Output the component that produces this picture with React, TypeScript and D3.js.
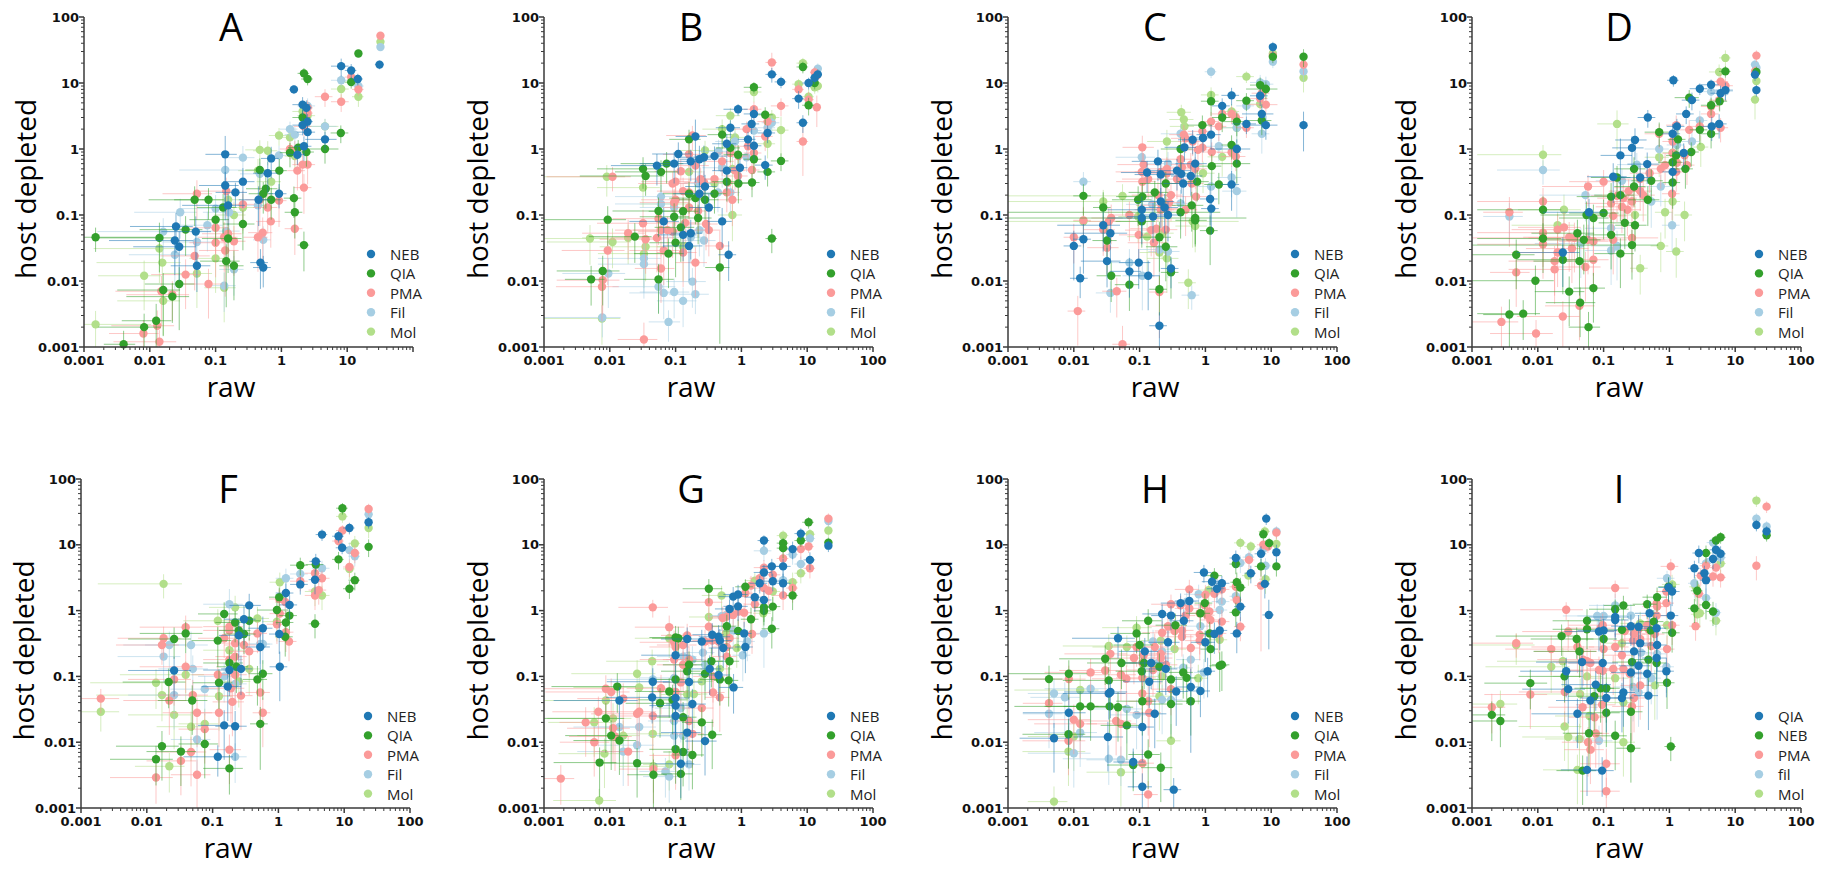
import React from "react";
import * as d3 from "d3";

type Pt = [number, number, number, number]; // x, y, relative SD of x, relative SD of y

const COLORS = ["#1f78b4", "#33a02c", "#fb9a99", "#a6cee3", "#b2df8a"];
const NAMES_STD = ["NEB", "QIA", "PMA", "Fil", "Mol"];
const NAMES_I = ["QIA", "NEB", "PMA", "fil", "Mol"];
const X_TICKS = [0.001, 0.01, 0.1, 1, 10, 100];
const X_TICKS_A = [0.001, 0.01, 0.1, 1, 10];
const Y_TICKS = [0.001, 0.01, 0.1, 1, 10, 100];
const LETTERS = ["A", "B", "C", "D", "F", "G", "H", "I"];

// ---------------- Panel A ----------------
const A_NEB: Pt[] = [[31,19,.15,.15],[8.1,18,.3,.3],[11.5,15.5,.2,.25],[14.5,11.5,.2,.2],[1.55,8,.15,.15],[2.1,4.7,.3,.3],[2.4,4.2,.2,.3],[2.5,2.6,.2,.3],[2.1,2.3,.3,.3],[2.5,1.8,.3,.4],[2.2,1.1,.3,.4],[1.75,0.82,.3,.3],[4.6,1.4,.5,.3],[0.7,0.72,.3,.5],[0.62,0.43,.4,.5],[0.92,0.21,.3,.4],[0.45,0.17,.5,.6],[0.14,0.83,.5,.9],[0.14,0.28,.6,.6],[0.155,0.14,.8,.5],[0.2,0.22,.5,.4],[0.26,0.32,.5,.6],[0.025,0.067,.8,.6],[0.024,0.041,.9,.7],[0.028,0.033,.8,.7],[0.05,0.056,.7,.7],[0.052,0.017,.6,.6],[0.48,0.019,.3,.6],[0.53,0.016,.3,.5]];
const A_QIA: Pt[] = [[14.8,28,.1,.1],[2.2,14,.2,.2],[2.5,11.5,.2,.2],[11.5,10.3,.2,.2],[2.1,3,.3,.3],[8,1.75,.3,.3],[4.6,1,.6,.4],[2.4,0.9,.3,.4],[1.35,0.88,.3,.4],[1.8,1.05,.3,.3],[0.93,0.47,.3,.5],[0.47,0.48,.4,.5],[0.58,0.25,.5,.5],[0.53,0.21,.4,.5],[0.7,0.17,.4,.5],[1.55,0.18,.3,.5],[1.6,0.11,.3,.6],[2.2,0.035,.2,.6],[0.26,0.073,.5,.6],[0.1,0.085,.6,.6],[0.13,0.13,.6,.6],[0.078,0.17,.7,.5],[0.048,0.17,.8,.6],[0.035,0.06,.8,.6],[0.014,0.045,.9,.7],[0.0015,0.046,7,.4],[0.155,0.044,.6,.7],[0.145,0.02,.6,.8],[0.19,0.017,.4,.7],[0.028,0.009,.7,.8],[0.016,0.0073,.8,.8],[0.022,0.0058,.8,.6],[0.0125,0.0025,.7,.8],[0.0082,0.002,.8,.6],[0.004,0.0011,.5,.6]];
const A_PMA: Pt[] = [[32,52,.1,.1],[11.5,12.3,.2,.2],[14.8,8,.2,.2],[4.6,6.2,.3,.3],[8.1,5.2,.3,.3],[2.5,4.2,.2,.3],[2.5,3.5,.2,.3],[2.2,2.2,.3,.3],[1.35,1,.3,.3],[1.6,0.94,.3,.4],[2.1,0.58,.3,.5],[2.5,0.58,.3,.5],[1.75,0.47,.3,.5],[2.2,0.26,.3,.6],[0.92,0.165,.3,.6],[0.47,0.17,.4,.6],[0.62,0.13,.4,.6],[0.69,0.08,.4,.6],[1.6,0.062,.3,.6],[0.52,0.054,.4,.7],[0.44,0.046,.4,.7],[0.145,0.23,.6,.6],[0.052,0.21,.7,.6],[0.26,0.145,.5,.6],[0.1,0.064,.6,.6],[0.135,0.046,.6,.7],[0.155,0.052,.6,.7],[0.19,0.04,.5,.7],[0.1,0.038,.6,.7],[0.14,0.029,.6,.8],[0.048,0.024,.7,.7],[0.035,0.0125,.7,.7],[0.078,0.009,.6,.7],[0.015,0.007,.8,.7],[0.022,0.0062,.8,.6],[0.013,0.0021,.8,.7],[0.008,0.0016,.7,.6],[0.014,0.0012,.8,.5]];
const A_FIL: Pt[] = [[32,35,.1,.1],[8.1,11,.3,.2],[14.8,9,.2,.2],[2.5,4.5,.3,.3],[4.6,2.2,.5,.3],[1.35,2,.3,.3],[1.6,1.65,.3,.3],[0.92,0.8,.3,.4],[0.26,0.74,.5,.5],[0.14,0.48,.8,.5],[0.47,0.42,.5,.5],[0.44,0.14,.5,.6],[0.1,0.125,.7,.6],[0.16,0.11,.6,.6],[0.029,0.11,.8,.6],[0.016,0.056,.9,.6],[0.075,0.07,.7,.6],[0.052,0.039,.7,.7],[0.024,0.025,.8,.7],[0.19,0.015,.4,.6],[0.135,0.0085,.5,.6],[0.53,0.042,.3,.6],[0.145,0.057,.6,.6]];
const A_MOL: Pt[] = [[32,42,.1,.1],[8.1,8.1,.3,.3],[14.8,6.2,.2,.3],[2.5,3.2,.3,.3],[2.1,3.7,.3,.3],[4.6,2.2,.6,.3],[0.92,1.6,.3,.3],[1.35,1.5,.3,.3],[0.47,0.97,.4,.4],[0.62,0.94,.4,.4],[1.6,0.78,.3,.4],[0.44,0.47,.5,.5],[0.7,0.32,.4,.5],[0.19,0.1,.5,.6],[0.26,0.13,.5,.6],[0.155,0.17,.6,.6],[0.1,0.022,.6,.7],[0.014,0.031,.9,.7],[0.0155,0.019,.9,.7],[0.052,0.013,.7,.7],[0.0082,0.012,.8,.7],[0.016,0.005,.8,.7],[0.135,0.0079,.5,.7],[0.0015,0.0022,6,.6]];

// ---------------- Panel B ----------------
const B_NEB: Pt[] = [[2.9,13.5,.2,.25],[4,10.4,.2,.2],[10.5,10,.2,.2],[13,12,.15,.2],[14.5,13.5,.15,.2],[7.4,5.8,.2,.3],[8.6,2.5,.2,.3],[0.89,4,.4,.2],[1.55,3.4,.3,.3],[1.43,2.4,.3,.3],[2.5,1.75,.3,.3],[0.68,2.1,.4,.3],[1.26,1.4,.3,.3],[1.55,1.12,.3,.4],[0.6,1.2,.4,.4],[0.95,0.52,.3,.4],[0.6,0.47,.4,.5],[2.3,0.57,.3,.4],[0.39,0.78,.5,.4],[0.27,0.75,.6,.5],[0.23,0.7,.5,.6],[0.17,0.65,.6,.5],[0.11,0.84,.6,.5],[0.095,0.6,.7,.5],[0.052,0.56,.8,.5],[0.2,1.55,.5,.8],[0.28,0.27,.5,.5],[0.23,0.21,.6,.5],[0.32,0.13,.5,.6],[0.066,0.08,.7,.6],[0.51,0.08,.4,.6],[0.13,0.05,.6,.6],[0.17,0.053,.5,.6],[0.16,0.034,.6,.7],[0.64,0.025,.3,.6]];
const B_QIA: Pt[] = [[8.6,17.5,.2,.2],[13,10,.15,.2],[10.5,4.6,.2,.3],[1.55,8.6,.3,.2],[2.3,3.3,.3,.3],[0.51,1.65,.4,.4],[0.68,1.04,.4,.4],[0.89,0.82,.4,.4],[1.55,0.7,.3,.4],[4,0.66,.3,.3],[2.5,0.45,.3,.4],[1.45,0.31,.3,.4],[0.9,0.3,.4,.5],[0.6,0.32,.4,.5],[0.39,0.21,.5,.5],[0.28,0.17,.6,.5],[0.2,0.18,.6,.6],[0.16,0.21,.6,.5],[0.16,1.4,.5,.4],[0.073,0.6,.8,.5],[0.06,0.45,.8,.5],[0.032,0.5,.8,.5],[0.035,0.39,.9,.5],[0.055,0.115,.8,.6],[0.095,0.094,.7,.6],[0.13,0.114,.7,.6],[0.22,0.09,.6,.6],[0.12,0.065,.6,.7],[0.1,0.038,.6,.7],[0.078,0.026,.7,.7],[0.024,0.047,.8,.6],[0.0093,0.085,.9,.6],[0.0078,0.0142,.8,.7],[0.0052,0.0106,.6,.6],[0.055,0.0106,.7,.7],[0.47,0.016,.4,.93],[2.9,0.044,.2,.4]];
const B_PMA: Pt[] = [[2.9,20.5,.2,.4],[13,14.5,.15,.2],[14,13,.15,.2],[7.4,8,.2,.3],[10.5,5.6,.2,.3],[14,4.3,.15,.5],[4,4.5,.3,.3],[1.55,4,.3,.3],[2.5,2.6,.3,.4],[1.2,2,.4,.3],[2.3,1.55,.3,.4],[8.6,1.3,.2,.7],[1.26,1.1,.4,.4],[1.55,0.87,.3,.4],[0.68,0.87,.4,.4],[0.9,0.78,.4,.4],[0.51,0.65,.5,.4],[1.45,0.48,.3,.5],[0.8,0.47,.4,.5],[0.89,0.39,.4,.5],[0.62,0.31,.4,.5],[0.39,0.35,.5,.5],[0.24,0.35,.6,.5],[0.27,0.31,.5,.5],[0.6,0.22,.4,.5],[0.73,0.17,.4,.6],[0.16,0.83,.6,.5],[0.18,1.6,.6,.4],[0.2,0.56,.6,.5],[0.12,0.46,.6,.5],[0.1,0.32,.7,.5],[0.09,0.3,.7,.5],[0.13,0.23,.6,.6],[0.16,0.22,.6,.6],[0.1,0.17,.7,.6],[0.095,0.155,.7,.6],[0.16,0.13,.6,.6],[0.22,0.115,.6,.6],[0.055,0.088,.8,.6],[0.032,0.075,.8,.6],[0.14,0.076,.6,.6],[0.29,0.073,.5,.6],[0.32,0.059,.5,.6],[0.06,0.059,.8,.6],[0.075,0.059,.7,.6],[0.09,0.056,.7,.6],[0.019,0.053,.8,.6],[0.052,0.045,.8,.7],[0.035,0.043,.8,.7],[0.011,0.38,.9,.4],[0.0093,0.029,.8,.7],[0.066,0.029,.7,.7],[0.13,0.027,.6,.7],[0.47,0.034,.4,.7],[0.2,0.019,.5,.7],[0.06,0.0155,.6,.7],[0.0078,0.0103,.8,.7],[0.0076,0.0082,.8,.7],[0.033,0.0013,.6,.8]];
const B_FIL: Pt[] = [[14.5,16.5,.15,.2],[2.9,2.5,.3,.3],[2.5,2.1,.3,.3],[1.55,1.9,.3,.4],[0.8,1.3,.5,.4],[0.45,0.92,.5,.5],[1.2,0.75,.4,.4],[0.51,0.52,.5,.5],[0.22,0.3,.6,.5],[0.06,0.19,.8,.5],[0.06,0.147,.8,.6],[0.68,0.22,.4,.5],[0.44,0.22,.5,.5],[0.095,0.13,.7,.6],[0.23,0.059,.6,.6],[0.27,0.041,.5,.6],[0.033,0.022,.8,.7],[0.033,0.018,.8,.7],[0.0095,0.013,.8,.7],[0.055,0.0082,.8,.6],[0.066,0.0066,.7,.6],[0.095,0.0068,.7,.6],[0.18,0.0098,.6,.6],[0.2,0.0063,.6,.5],[0.13,0.005,.6,.6],[0.0077,0.0028,.9,.5],[0.078,0.0024,.5,.5],[0.17,0.046,.6,.6]];
const B_MOL: Pt[] = [[8.6,20,.2,.2],[13,8.6,.15,.2],[14.5,9,.15,.2],[7.4,9.6,.2,.2],[10.5,6.2,.2,.3],[1.55,7.3,.3,.3],[0.68,3.2,.4,.3],[2.9,3,.3,.3],[0.51,2,.5,.4],[4,1.93,.3,.6],[2.5,1.2,.3,.4],[0.8,1.5,.4,.4],[0.28,0.95,.6,.4],[0.73,0.5,.4,.5],[0.39,0.3,.5,.5],[0.16,0.45,.6,.5],[0.009,0.38,.9,.5],[0.032,0.26,.8,.5],[0.73,0.1,.4,.6],[0.095,0.147,.7,.6],[0.005,0.044,.9,.6],[0.011,0.039,.9,.6],[0.019,0.045,.8,.6],[0.035,0.033,.8,.7],[0.033,0.026,.8,.7],[0.13,0.033,.6,.7],[0.0076,0.0027,.9,.6]];

// ---------------- Panel C ----------------
const C_NEB: Pt[] = [[10.6,35,.1,.2],[2.5,6.5,.3,.3],[6.8,6.4,.3,.3],[1.8,4.5,.3,.3],[7.2,3.4,.5,.4],[4.2,2.4,.4,.3],[8.3,2.3,.5,.4],[31,2.3,.1,.6],[1.22,1.65,.4,.4],[0.64,1.38,.4,.4],[0.92,1.47,.4,.4],[0.48,1.06,.5,.4],[3,1,.6,.4],[0.7,0.6,.5,.5],[0.6,0.39,.5,.5],[0.46,0.3,.5,.5],[0.43,0.42,.5,.5],[0.37,0.47,.6,.5],[0.19,0.65,.6,.5],[0.21,0.41,.6,.5],[0.13,0.44,.6,.5],[2.5,0.29,.3,.6],[0.108,0.12,.7,.6],[0.108,0.09,.7,.6],[0.21,0.16,.6,.6],[0.24,0.13,.6,.6],[0.27,0.1,.6,.6],[0.16,0.095,.6,.6],[1.23,0.125,.3,.6],[1.18,0.175,.3,.6],[0.028,0.07,.8,.6],[0.036,0.053,.8,.6],[0.01,0.034,.3,.7],[0.014,0.043,.3,.7],[0.032,0.02,.6,.6],[0.097,0.019,.5,.6],[0.07,0.014,.5,.6],[0.135,0.012,.5,.7],[0.3,0.0155,.3,.5],[0.0125,0.011,.3,.5],[0.2,0.0021,.3,.6]];
const C_QIA: Pt[] = [[31,25,.1,.3],[10.6,25,.1,.2],[6.8,9.3,.3,.3],[8.3,8.1,.5,.3],[4.2,5.4,.3,.3],[1.22,5.3,.3,.4],[7.2,2.7,.4,.4],[3,2.6,.4,.4],[0.9,2.3,.4,.4],[1.8,3,.3,.4],[0.42,1,.5,.5],[2.5,1.15,.3,.4],[3,0.6,.6,.5],[1.25,0.55,.4,.5],[0.75,0.32,.5,.5],[1.6,0.29,.4,.5],[0.25,0.3,.6,.5],[0.11,0.19,.6,.6],[0.095,0.17,.6,.6],[0.17,0.22,.6,.5],[0.42,0.11,3,.6],[0.62,0.14,.5,.6],[0.7,0.09,5,.6],[0.7,0.083,.5,.6],[1.18,0.058,.3,.7],[0.108,0.08,.6,.6],[0.2,0.046,.5,.7],[0.25,0.033,.5,.7],[0.3,0.0135,.3,.6],[0.028,0.13,.3,.7],[0.032,0.041,.4,.7],[0.014,0.195,.3,.5],[0.037,0.012,.4,.6],[0.07,0.0088,.4,.6],[0.2,0.0075,.3,.6]];
const C_PMA: Pt[] = [[10.6,26,.1,.2],[31,19,.1,.3],[7.2,7,.3,.3],[6.8,5.8,.3,.3],[8.3,4.7,.5,.3],[1.8,3.4,.3,.3],[2.5,3.4,.3,.3],[2.9,3,.3,.3],[1.22,2.6,.3,.4],[1.6,2.2,.3,.4],[4.2,2.1,.3,.3],[0.9,1.85,.4,.4],[0.47,1.65,.4,.4],[0.5,1.45,.4,.4],[0.64,1.3,.4,.4],[0.9,1.05,.4,.4],[0.77,0.97,.4,.4],[1.25,0.9,.4,.4],[2.5,0.89,.4,.4],[2.9,0.77,.4,.4],[0.42,0.7,.5,.5],[0.6,0.58,.5,.5],[0.7,0.5,.5,.5],[0.44,0.53,.5,.5],[0.11,1.06,.5,.5],[0.115,0.58,.6,.5],[0.108,0.45,.6,.5],[0.21,0.45,.6,.5],[0.26,0.5,.6,.5],[0.135,0.35,.6,.5],[0.11,0.32,.6,.5],[0.37,0.35,.5,.5],[0.26,0.43,.6,.5],[0.19,0.2,.6,.6],[0.22,0.14,.6,.6],[0.21,0.12,.6,.6],[0.25,0.125,.6,.6],[0.3,0.2,.5,.6],[0.28,0.155,.5,.6],[0.5,0.12,.5,.6],[0.72,0.19,.5,.6],[0.62,0.3,.5,.5],[0.15,0.059,.6,.6],[0.18,0.062,.6,.6],[0.25,0.06,.5,.6],[0.165,0.038,.6,.7],[0.07,0.1,.5,.6],[0.097,0.05,.5,.7],[0.037,0.09,.5,.6],[0.034,0.08,.5,.6],[0.028,0.06,.5,.6],[0.032,0.032,.5,.6],[0.01,0.046,.3,.6],[0.014,0.083,.3,.6],[0.045,0.007,.4,.6],[0.2,0.0068,.3,.8],[0.0115,0.0035,.3,.7],[0.055,0.0011,.3,.9]];
const C_FIL: Pt[] = [[10.6,21,.1,.2],[31,15,.1,.3],[1.22,14.8,.2,.2],[6.8,10.2,.3,.3],[8.3,9.6,.3,.3],[4.2,4.5,.3,.3],[7.2,1.7,.3,.5],[3,2.1,.4,.4],[1.6,1.1,.4,.4],[0.42,1.7,.5,.4],[0.108,0.75,.6,.5],[0.27,0.6,.5,.5],[2.5,0.37,.4,.5],[3,0.23,.4,.6],[1.22,0.27,.4,.6],[0.42,0.15,.5,.6],[0.155,0.145,.6,.6],[0.014,0.32,.3,.4],[0.07,0.019,.5,.6],[0.11,0.012,.5,.7],[0.036,0.0066,.4,.5],[0.62,0.0061,.3,.4],[0.2,0.03,.5,.6],[0.27,0.028,.5,.6]];
const C_MOL: Pt[] = [[10.6,28,.1,.2],[31,12,.1,.4],[4.2,12.5,.3,.2],[1.22,6.6,.3,.3],[6.8,4.8,.3,.3],[2.5,3.7,.3,.3],[0.43,3.6,.4,.3],[0.47,2.8,.4,.4],[0.48,2.2,.4,.4],[3,2.1,.4,.4],[0.26,1.3,.5,.5],[1.8,0.76,.4,.5],[0.92,0.43,.5,.5],[0.055,0.195,3,.5],[0.028,0.16,4,.5],[0.095,0.095,.5,.6],[0.64,0.08,4,.6],[0.7,0.068,.5,.6],[0.22,0.053,.5,.6],[0.13,0.047,.5,.7],[0.2,0.027,.5,.7],[0.26,0.022,.5,.7],[0.55,0.0094,.3,.6],[0.014,0.08,.3,.6]];

// ---------------- Panel D ----------------
const D_NEB: Pt[] = [[1.15,11,.2,.2],[2.9,8.2,.3,.2],[4.3,9.4,.3,.2],[6,7,.3,.3],[7.1,7.8,.3,.3],[20,13.4,.1,.2],[21,7.8,.1,.2],[2.2,5.5,.3,.3],[1.8,3.4,.3,.3],[0.47,3,.3,.3],[5.7,2.4,.3,.4],[4.4,2.2,.3,.4],[1.3,2.2,.3,.3],[1.12,1.7,.3,.4],[0.3,1.37,.5,.5],[0.27,1.04,.5,.5],[0.18,0.8,.5,.8],[0.46,0.59,.5,.5],[1.65,0.87,.3,.4],[1.12,0.45,.3,.5],[0.14,0.38,.6,.6],[0.36,0.37,.5,.5],[0.06,0.11,.8,.6],[0.024,0.027,.8,.7]];
const D_QIA: Pt[] = [[7.1,15,.2,.2],[21,14.7,.1,.2],[2,6,.4,.3],[5.8,5.3,.3,.3],[4.3,4.6,.3,.3],[0.7,1.8,.4,.4],[1.35,1.4,.3,.4],[4.3,1.7,.3,.4],[2.9,1.95,.3,.4],[2.15,0.9,.3,.4],[1.27,0.8,.3,.4],[1.12,0.63,.4,.5],[1.75,0.5,.3,.5],[1.12,0.31,.3,.6],[0.29,0.5,.5,.5],[0.16,0.37,.6,.5],[0.29,0.27,.5,.5],[0.53,0.33,.5,.5],[0.47,0.17,.5,.6],[0.13,0.19,.7,.6],[0.18,0.2,.6,.6],[0.055,0.1,.8,.6],[0.07,0.09,.7,.6],[0.1,0.107,.7,.6],[0.21,0.076,.6,.6],[0.3,0.07,.5,.6],[0.012,0.12,.9,.6],[0.13,0.05,.6,.7],[0.27,0.035,1.5,.7],[0.18,0.026,.6,.7],[0.04,0.053,.8,.6],[0.05,0.042,.8,.7],[0.012,0.044,.9,.7],[0.0047,0.025,.9,.7],[0.024,0.021,.8,.7],[0.043,0.02,.8,.7],[0.0092,0.0101,.9,.7],[0.07,0.0078,.5,.7],[0.03,0.0069,.7,.7],[0.044,0.0047,.7,.7],[0.0037,0.0031,.6,.7],[0.006,0.0032,.8,.6],[0.059,0.002,.5,.7]];
const D_PMA: Pt[] = [[21,26,.1,.2],[20,15,.1,.2],[6,10.5,.3,.3],[7.1,9.1,.3,.3],[5.7,5.5,.3,.3],[4.3,4.4,.3,.3],[4.3,3.4,.3,.4],[6,2.1,.3,.4],[2.9,2.2,.3,.4],[1.27,2.3,.3,.4],[2,1.95,.3,.4],[0.7,1.7,.4,.4],[1.12,1.3,.3,.4],[1.7,0.8,.3,.4],[1.12,0.86,.3,.4],[1.85,0.57,.3,.5],[1.3,0.62,.3,.5],[0.86,0.57,.4,.5],[0.74,0.5,.4,.5],[1.27,0.45,.3,.5],[1.1,0.21,.3,.6],[0.5,0.43,.5,.5],[0.36,0.35,.5,.5],[0.1,0.32,.7,.5],[0.058,0.27,.8,.5],[0.29,0.26,.5,.5],[0.36,0.23,.5,.5],[0.4,0.2,.5,.6],[0.24,0.23,.5,.5],[0.2,0.18,.6,.6],[0.27,0.16,.5,.6],[0.16,0.195,.6,.6],[0.19,0.133,.6,.6],[0.23,0.12,.6,.6],[0.13,0.15,.6,.6],[0.14,0.097,.6,.6],[0.012,0.16,.9,.6],[0.0037,0.11,.6,.7],[0.012,0.054,.9,.7],[0.012,0.036,.9,.7],[0.02,0.06,.8,.7],[0.025,0.065,.8,.7],[0.03,0.046,.8,.7],[0.036,0.045,.8,.7],[0.058,0.042,.8,.7],[0.07,0.04,.7,.7],[0.033,0.031,.8,.7],[0.02,0.027,.8,.7],[0.018,0.02,.8,.7],[0.018,0.015,.8,.7],[0.0047,0.0135,.6,.7],[0.053,0.0163,.7,.7],[0.07,0.021,.7,.7],[0.14,0.042,.6,.7],[0.27,0.045,1.5,.7],[0.043,0.0042,.7,.7],[0.024,0.0029,.8,.7],[0.0028,0.0024,.8,.7],[0.0094,0.0016,.8,.6]];
const D_FIL: Pt[] = [[20,19,.1,.2],[21,17,.1,.2],[4.3,7.4,.3,.3],[7.1,7.5,.3,.3],[2.9,2.7,.3,.4],[2.2,1.3,.3,.4],[0.7,1,.4,.4],[1.3,1.15,.3,.4],[0.32,0.58,.5,.5],[0.19,0.33,.6,.5],[0.74,0.27,.4,.5],[0.53,0.16,.5,.6],[0.053,0.2,.8,.6],[0.13,0.063,.6,.6],[0.16,0.034,.6,.7],[0.13,0.029,.6,.7],[1.1,0.07,.3,.6],[0.045,0.037,.8,.7],[0.012,0.48,.8,.4],[0.0037,0.095,.6,.6]];
const D_MOL: Pt[] = [[7.1,24,.2,.3],[5.7,14.7,.3,.3],[21,10.7,.1,.3],[20,5.6,.1,.5],[0.16,2.4,.5,.6],[0.012,0.82,.9,.4],[0.7,0.75,.4,.5],[3,1.07,.3,.5],[1.12,0.88,.3,.5],[1.12,0.16,.3,.6],[0.86,0.11,.3,.6],[1.7,0.1,.3,.6],[0.74,0.034,.3,.6],[1.27,0.028,.3,.6],[0.36,0.0156,.3,.6],[0.025,0.12,.8,.7],[0.02,0.07,.8,.6],[0.3,0.1,.5,.6]];

// ---------------- Panel F ----------------
const F_NEB: Pt[] = [[9.3,9,.2,.2],[8.2,13.5,.2,.2],[12,18,.2,.2],[23.5,22,.1,.2],[4.6,14.3,.2,.2],[3.7,5.6,.2,.3],[3.6,2.95,.2,.4],[2.15,2.5,.3,.3],[1.3,1.85,.3,.4],[1.48,1.22,.3,.4],[1.03,0.44,.3,.5],[1.05,0.14,.3,.7],[0.58,0.54,.4,.5],[0.53,0.28,.4,.6],[0.36,1.2,.5,.5],[0.3,0.74,.5,.6],[0.25,0.42,.5,.6],[0.27,0.13,.5,.6],[0.18,0.125,.6,.6],[0.17,0.07,.6,.7],[0.026,0.123,.8,.6],[0.15,0.018,.6,.7],[0.22,0.0175,.5,.7],[0.12,0.006,.7,.5]];
const F_QIA: Pt[] = [[9.4,36,.2,.2],[23.5,9.3,.1,.3],[8.2,6,.2,.3],[14.5,2.9,.2,.3],[12,2.15,.2,.3],[2.15,4.9,.3,.3],[3.7,5,.3,.3],[3.6,0.63,.2,.4],[1.03,1.6,.3,.4],[0.95,1.02,.5,.4],[1.47,0.84,.3,.4],[1.3,0.66,.3,.5],[1.27,0.4,.3,.5],[0.15,0.89,.6,.5],[0.22,0.66,.5,.5],[0.3,0.44,.5,.5],[0.36,0.7,.5,.5],[0.25,0.5,.5,.5],[0.12,0.35,.6,.6],[0.039,0.45,.8,.5],[0.026,0.37,.8,.5],[0.18,0.16,.6,.6],[0.23,0.14,.5,.6],[0.48,0.09,.4,.6],[0.58,0.11,.4,.6],[0.125,0.08,.6,.6],[0.0215,0.082,.8,.6],[0.049,0.043,.7,.7],[0.53,0.019,.3,.8],[0.017,0.0087,.8,.7],[0.0138,0.0055,.8,.6],[0.033,0.0072,.7,.7],[0.076,0.0094,.6,.7],[0.18,0.004,.6,.6]];
const F_PMA: Pt[] = [[23.5,35,.1,.2],[9.4,16.5,.2,.2],[8.2,11.4,.2,.2],[14.5,7.5,.2,.3],[12,4.6,.2,.3],[2.15,2.8,.3,.3],[3.6,3.7,.3,.3],[4.6,3.1,.3,.3],[4.1,2.05,.3,.4],[3.6,1.7,.3,.4],[1.03,1.5,.3,.4],[1.27,1.35,.3,.4],[1.05,0.9,.3,.4],[0.95,0.62,.3,.5],[1.3,0.47,.3,.5],[1.45,0.34,.3,.5],[0.48,0.45,.4,.5],[0.36,0.24,.5,.6],[0.3,0.3,.5,.6],[0.22,0.32,.5,.6],[0.18,0.57,.6,.5],[0.18,0.5,.6,.5],[0.15,0.38,.6,.5],[0.22,0.2,.5,.6],[0.18,0.18,.6,.6],[0.22,0.106,.5,.6],[0.12,0.106,.6,.6],[0.19,0.066,.6,.7],[0.27,0.051,.5,.7],[0.2,0.041,.5,.7],[0.53,0.057,.4,.7],[0.58,0.028,.3,.7],[0.039,0.56,.8,.5],[0.018,0.38,.8,.5],[0.017,0.3,.8,.5],[0.039,0.14,.8,.6],[0.026,0.09,.8,.6],[0.022,0.043,.8,.7],[0.05,0.052,.7,.7],[0.058,0.028,.7,.7],[0.125,0.028,.6,.7],[0.076,0.0158,.6,.7],[0.047,0.0071,.7,.7],[0.18,0.0077,.5,.7],[0.033,0.0052,.7,.7],[0.058,0.0032,.6,.7],[0.0138,0.0029,.8,.6],[0.002,0.046,.9,.4]];
const F_FIL: Pt[] = [[23.5,29,.1,.2],[14.5,6.7,.2,.3],[12,8.3,.2,.3],[4.6,4.4,.3,.3],[2.15,3.6,.3,.3],[1.3,3.1,.3,.4],[0.18,1.25,.6,.7],[0.53,0.31,.4,.5],[0.58,0.31,.4,.5],[0.047,0.3,.8,.6],[0.022,0.3,.8,.6],[0.018,0.2,.8,.6],[0.05,0.13,.7,.6],[0.026,0.052,.8,.7],[0.076,0.064,.7,.6],[0.22,0.077,.5,.6],[0.058,0.011,.6,.7],[0.22,0.006,.5,.6],[0.15,0.1,.6,.6]];
const F_MOL: Pt[] = [[9.4,27,.2,.2],[23.5,18,.1,.3],[14.5,10.5,.2,.3],[12,4.3,.2,.3],[4.6,1.7,.3,.4],[3.6,1.95,.3,.4],[1.05,2.7,.3,.4],[0.95,0.68,.4,.5],[0.48,0.76,.5,.5],[0.22,1.12,.6,.5],[0.12,0.7,.7,.5],[0.18,0.25,.6,.6],[0.36,0.13,.5,.6],[0.25,0.084,.5,.6],[0.125,0.05,.6,.7],[0.039,0.106,.9,.6],[0.0138,0.08,.9,.6],[0.017,0.052,.9,.6],[0.026,0.026,.8,.7],[0.047,0.0172,.7,.7],[0.076,0.019,.6,.7],[0.022,0.0043,.7,.6],[0.002,0.029,.9,.5],[0.018,2.55,.9,.4]];

// ---------------- Panel G ----------------
const G_NEB: Pt[] = [[2.2,11.6,.2,.2],[8,14.8,.2,.2],[21,9.7,.1,.2],[11,5.9,.2,.3],[6,8.6,.2,.3],[2.9,4.7,.3,.3],[2.2,3.8,.3,.3],[3,2.8,.3,.3],[4.3,4.7,.3,.3],[4.3,2.6,.3,.4],[1.9,2.6,.3,.3],[1.6,1.6,.3,.4],[2.2,1.45,.3,.4],[0.89,1.76,.4,.4],[0.75,1.63,.4,.4],[0.66,1.06,.4,.4],[0.89,1.16,.4,.4],[1.1,0.45,.3,.5],[1.15,0.28,.3,.6],[0.45,0.4,.5,.5],[0.36,0.43,.5,.5],[0.25,0.34,.5,.5],[0.53,0.27,.4,.5],[0.47,0.35,.5,.5],[0.33,0.13,.5,.6],[0.45,0.105,.5,.6],[0.76,0.068,.4,.6],[0.15,0.37,.6,.5],[0.1,0.21,.7,.6],[0.16,0.082,.6,.6],[0.045,0.083,.8,.6],[0.044,0.048,.8,.6],[0.014,0.043,.9,.6],[0.1,0.047,.6,.7],[0.1,0.036,.6,.7],[0.1,0.025,.6,.7],[0.18,0.038,.6,.7],[0.15,0.014,.6,.7],[0.28,0.0104,.5,.7],[0.12,0.0047,.6,.7]];
const G_QIA: Pt[] = [[10.5,22,.2,.2],[21,10.8,.1,.2],[8,11.6,.2,.2],[4.3,10.6,.2,.2],[4.3,8.9,.2,.3],[6,1.7,.2,.4],[3,1.15,.3,.4],[2.2,1.12,.3,.4],[2.2,0.99,.3,.4],[1.15,2.3,.3,.3],[0.32,2.15,.6,.4],[2.9,0.53,.3,.5],[1.4,0.74,.3,.5],[0.89,0.49,.4,.5],[0.6,0.58,.4,.5],[0.66,0.17,.4,.6],[0.35,0.17,.5,.6],[0.47,0.09,.5,.6],[0.64,0.087,.4,.6],[0.28,0.11,.5,.6],[0.16,0.15,.6,.6],[0.15,0.12,.6,.6],[0.1,0.39,.6,.5],[0.11,0.38,.6,.5],[0.1,0.09,.6,.6],[0.08,0.059,.7,.6],[0.09,0.044,.7,.7],[0.013,0.07,.9,.6],[0.058,0.039,.7,.7],[0.0087,0.023,.9,.7],[0.014,0.0106,.8,.7],[0.0105,0.0126,.8,.7],[0.13,0.024,.6,.7],[0.25,0.02,.5,.7],[0.36,0.013,.4,.7],[0.1,0.0078,.6,.7],[0.13,0.0071,.5,.7],[0.18,0.0064,.5,.7],[0.12,0.0033,.5,.6],[0.046,0.0032,.6,.7],[0.026,0.0048,.7,.7],[0.007,0.0049,.8,.7]];
const G_PMA: Pt[] = [[21,25,.1,.2],[10.5,9.4,.2,.2],[8,8.6,.2,.3],[11,4.4,.2,.3],[6,2.2,.2,.4],[4.3,6.2,.2,.3],[4.3,1.7,.3,.4],[2.2,4.5,.3,.3],[3,3.5,.3,.3],[1.9,3.1,.3,.3],[2.2,2.2,.3,.4],[2.6,2,.3,.4],[1.4,2.4,.3,.4],[1.15,1.84,.3,.4],[1.6,1.25,.3,.4],[1.45,0.44,.3,.5],[1.1,0.93,.3,.4],[0.9,0.97,.4,.4],[0.75,0.86,.4,.4],[0.6,0.81,.4,.5],[0.52,0.77,.4,.5],[0.32,1.34,.6,.4],[0.32,0.57,.5,.5],[0.28,0.34,.5,.5],[0.36,0.35,.5,.5],[0.45,0.34,.4,.5],[0.6,0.28,.4,.5],[0.6,0.2,.4,.6],[0.66,0.38,.4,.5],[0.045,1.12,.7,.3],[0.08,0.56,.7,.5],[0.15,0.42,.6,.5],[0.095,0.33,.7,.5],[0.13,0.3,.6,.5],[0.1,0.28,.6,.5],[0.095,0.18,.7,.6],[0.16,0.18,.6,.6],[0.13,0.15,.6,.6],[0.12,0.081,.6,.6],[0.37,0.1,.5,.6],[0.37,0.057,.5,.7],[0.47,0.048,.4,.7],[0.06,0.066,.7,.6],[0.1,0.058,.6,.6],[0.25,0.033,.5,.7],[0.0087,0.065,.9,.6],[0.0105,0.058,.9,.6],[0.016,0.046,.8,.7],[0.0067,0.029,.8,.7],[0.026,0.027,.8,.7],[0.028,0.029,.8,.7],[0.045,0.025,.8,.7],[0.0043,0.02,.6,.7],[0.0112,0.0163,.8,.7],[0.012,0.0122,.8,.7],[0.0058,0.01,.7,.7],[0.019,0.0072,.7,.7],[0.16,0.021,.5,.7],[0.18,0.0134,.5,.7],[0.1,0.0063,.6,.7],[0.046,0.0039,.7,.7],[0.0018,0.0028,.6,.6]];
const G_FIL: Pt[] = [[21,23,.1,.2],[11,12.5,.2,.2],[2.2,8.1,.3,.3],[6,7.1,.2,.3],[8,5.1,.2,.3],[4.3,2.9,.3,.4],[2.2,0.45,.3,.7],[1.05,0.21,.3,.6],[1.23,0.34,.3,.5],[0.75,0.5,.4,.5],[0.58,0.84,.4,.4],[0.5,0.82,.4,.4],[0.26,0.23,.5,.6],[0.28,0.15,.5,.6],[0.18,0.18,.6,.6],[0.13,0.2,.6,.6],[0.095,0.095,.7,.6],[0.045,0.09,.8,.6],[0.12,0.033,.6,.7],[0.095,0.021,.6,.7],[0.095,0.0126,.6,.7],[0.13,0.0125,.6,.7],[0.028,0.017,.8,.7],[0.014,0.017,.8,.7],[0.026,0.009,.8,.7],[0.016,0.0072,.8,.7],[0.16,0.0046,.5,.6],[0.07,0.0036,.6,.6],[0.08,0.003,.6,.6]];
const G_MOL: Pt[] = [[21,16.5,.1,.2],[11,14.5,.2,.2],[4.3,13.8,.2,.2],[6,2.7,.2,.4],[8,3.7,.2,.3],[1.6,2.85,.3,.3],[3,1.95,.3,.4],[2.15,0.91,.3,.4],[0.5,1.7,.5,.4],[0.32,0.8,.5,.4],[0.85,0.27,.4,.5],[0.58,0.45,.4,.5],[0.47,0.13,.5,.6],[0.25,0.084,.5,.6],[0.026,0.11,.9,.6],[0.028,0.068,.9,.6],[0.044,0.17,.8,.5],[0.08,0.38,.7,.5],[0.15,0.053,.6,.7],[0.19,0.054,.6,.7],[0.0087,0.043,.9,.7],[0.0112,0.023,.9,.7],[0.0058,0.02,.8,.7],[0.016,0.0126,.8,.7],[0.045,0.0134,.8,.7],[0.0083,0.0067,.8,.7],[0.08,0.0046,.6,.6],[0.046,0.0043,.7,.6],[0.0069,0.0013,.8,.5]];

// ---------------- Panel H ----------------
const H_NEB: Pt[] = [[8.4,25,.1,.2],[12,7.7,.1,.3],[7,7.3,.2,.3],[2.9,6.3,.2,.3],[4.9,3.7,.2,.3],[8,2.55,.2,.4],[9.2,0.86,.2,.7],[0.95,3.8,.3,.3],[1.26,2.75,.3,.3],[1.78,2.6,.3,.3],[1.5,2.15,.3,.4],[3.4,1.15,.2,.4],[3,0.45,.2,.5],[1.65,0.5,.3,.5],[1.37,0.44,.3,.5],[1,0.33,.4,.5],[1.08,0.12,.3,.6],[0.84,0.06,.4,.6],[0.6,0.069,.4,.9],[0.36,0.059,.5,.7],[0.42,1.3,.5,.4],[0.57,1.4,.4,.4],[0.3,0.84,.5,.4],[0.22,0.89,.5,.4],[0.47,0.7,.4,.5],[0.27,0.33,.5,.5],[0.25,0.13,.5,.6],[0.15,0.16,.6,.6],[0.12,0.24,.6,.6],[0.14,0.083,.6,.6],[0.17,0.027,.5,.7],[0.047,0.38,.8,.5],[0.034,0.055,.8,.6],[0.036,0.058,.8,.6],[0.0084,0.028,.8,.7],[0.005,0.0115,.7,.7],[0.033,0.012,.7,.7],[0.11,0.017,.5,.7],[0.08,0.005,.5,.6],[0.11,0.0021,.4,.6],[0.33,0.0019,.3,.5]];
const H_QIA: Pt[] = [[7.6,14.5,.1,.2],[9.3,10.6,.1,.2],[12,4.7,.1,.3],[7,4.7,.2,.3],[2.9,5.1,.2,.3],[3,2.7,.2,.4],[3.4,2.25,.2,.4],[2.9,0.94,.2,.4],[1.37,3.4,.3,.3],[0.98,1.3,.3,.4],[0.84,0.91,.4,.4],[1.16,0.45,.3,.5],[1.2,0.26,.3,.6],[1.65,0.145,.3,.6],[1.78,0.15,.3,.6],[0.46,0.115,.4,.6],[0.52,0.095,.4,.6],[0.6,0.042,.4,.7],[0.35,0.6,.5,.5],[0.135,0.7,.6,.5],[0.09,0.45,.6,.5],[0.1,0.3,.6,.5],[0.117,0.16,.6,.6],[0.108,0.12,.6,.6],[0.053,0.16,.7,.6],[0.03,0.185,.8,.6],[0.034,0.087,.8,.6],[0.11,0.042,.6,.7],[0.2,0.14,.5,.6],[0.3,0.09,.5,.6],[0.3,0.038,.5,.7],[0.0042,0.091,.6,.6],[0.0084,0.11,.9,.6],[0.0125,0.035,.9,.7],[0.018,0.035,.8,.7],[0.035,0.035,.8,.7],[0.047,0.034,.7,.7],[0.064,0.018,.6,.7],[0.0083,0.0132,.8,.7],[0.08,0.0045,.6,.6],[0.135,0.0065,.5,.7],[0.21,0.0041,.5,.7]];
const H_PMA: Pt[] = [[12,15.3,.1,.2],[7.6,10,.2,.2],[8.9,9.4,.2,.2],[4.6,5.9,.2,.3],[7,2.4,.2,.9],[2.9,2.3,.2,.4],[3,1.45,.2,.4],[3.4,0.57,.2,.4],[1.78,2.1,.3,.4],[1.37,1.8,.3,.4],[1,1.74,.3,.4],[0.97,1.22,.3,.4],[1.15,0.97,.3,.4],[1.06,0.85,.3,.4],[0.82,0.91,.3,.4],[1.19,0.72,.3,.5],[1.78,0.68,.3,.5],[1.6,0.45,.3,.5],[0.82,0.43,.4,.5],[0.82,0.35,.4,.5],[0.57,2.1,.4,.4],[0.3,1.25,.5,.4],[0.42,1.2,.5,.4],[0.57,1.08,.4,.4],[0.5,0.84,.4,.5],[0.27,0.58,.5,.5],[0.22,0.46,.5,.5],[0.34,0.49,.5,.5],[0.44,0.5,.5,.5],[0.44,0.4,.5,.5],[0.6,0.27,.4,.6],[0.17,0.28,.6,.6],[0.21,0.22,.5,.6],[0.21,0.19,.5,.6],[0.115,0.21,.6,.6],[0.11,0.16,.6,.6],[0.25,0.15,.5,.6],[0.16,0.125,.6,.6],[0.11,0.095,.6,.6],[0.09,0.28,.6,.5],[0.082,0.19,.6,.6],[0.3,0.064,.5,.6],[0.036,0.22,.8,.5],[0.03,0.123,.8,.6],[0.018,0.115,.8,.6],[0.052,0.106,.7,.6],[0.063,0.092,.7,.6],[0.0084,0.091,.8,.6],[0.11,0.055,.6,.7],[0.135,0.042,.5,.7],[0.14,0.028,.5,.7],[0.0042,0.039,.6,.7],[0.01,0.022,.8,.7],[0.0125,0.019,.8,.7],[0.044,0.021,.7,.7],[0.052,0.019,.7,.7],[0.0083,0.0105,.8,.7],[0.11,0.0048,.5,.6],[0.135,0.0016,.4,.6]];
const H_FIL: Pt[] = [[12,16,.1,.2],[7.6,8.6,.2,.2],[8.2,4.8,.2,.3],[4.6,6.5,.2,.3],[3.4,5.3,.2,.3],[2.9,1.65,.2,.4],[1.78,1.37,.3,.4],[1.65,1.02,.3,.4],[0.79,1.77,.4,.4],[0.84,0.58,.4,.5],[0.6,0.18,.4,.8],[0.46,0.135,.4,.6],[0.95,0.115,.3,.6],[0.52,1.37,.4,.4],[0.16,0.34,.6,.5],[0.22,0.24,.5,.6],[0.19,0.16,.6,.6],[0.22,0.044,.5,.7],[0.3,0.044,.5,.7],[0.064,0.032,.7,.7],[0.09,0.026,.6,.7],[0.018,0.065,.8,.7],[0.005,0.055,.6,.7],[0.0073,0.048,.7,.7],[0.0042,0.027,.6,.7],[0.0125,0.014,.8,.7],[0.01,0.0068,.8,.7],[0.034,0.0056,.8,.6],[0.052,0.0054,.7,.6]];
const H_MOL: Pt[] = [[8,16,.2,.2],[12,10.3,.1,.3],[3.4,10.7,.2,.2],[4.9,9.4,.2,.2],[4.5,3.4,.2,.3],[8.2,3,.2,.4],[1.12,2.05,.3,.4],[1.65,0.36,.3,.5],[0.98,0.33,.3,.5],[0.09,0.55,.7,.5],[0.034,0.29,.8,.5],[0.064,0.28,.7,.5],[0.21,0.35,.5,.5],[0.34,0.26,.5,.5],[0.22,0.1,.5,.6],[0.78,0.094,.4,.6],[0.2,0.05,.5,.7],[0.0125,0.062,.9,.7],[0.01,0.0122,.8,.7],[0.0083,0.0072,.8,.7],[0.3,0.0105,.4,.8],[0.052,0.0035,.7,.7],[0.005,0.00125,.6,.7]];

// ---------------- Panel I (legend order: QIA, NEB, PMA, fil, Mol) ----------------
const I_QIA: Pt[] = [[21,20,.1,.2],[30,16,.1,.2],[2.8,7.5,.2,.3],[5.1,8.4,.2,.3],[4.6,6.1,.2,.3],[6,7.3,.2,.3],[2.4,4.4,.2,.3],[3.4,3.7,.2,.3],[3.6,2.9,.2,.4],[0.97,2.25,.3,.4],[1.1,1.95,.3,.4],[1.05,0.84,.3,.5],[0.5,0.91,.4,.5],[0.64,0.54,.4,.5],[0.65,0.3,.4,.6],[0.64,0.19,.4,.6],[0.9,0.12,.3,.6],[0.46,0.11,.4,.6],[0.48,0.051,.4,.7],[0.34,0.57,.5,.5],[0.26,0.58,.5,.5],[0.36,0.32,.5,.6],[0.29,0.24,.5,.6],[0.34,0.145,.5,.6],[0.26,0.115,.5,.6],[0.15,0.72,.6,.5],[0.15,0.8,.6,.5],[0.085,0.48,.7,.5],[0.1,0.5,.6,.5],[0.097,0.16,.7,.6],[0.047,0.165,.8,.6],[0.076,0.075,.7,.6],[0.11,0.047,.6,.7],[0.063,0.043,.7,.7],[0.19,0.047,.5,.7],[0.2,0.057,.5,.7],[0.027,0.12,.8,.6],[0.029,0.064,.8,.7],[0.04,0.027,.8,.7],[0.056,0.0038,.6,.6],[0.095,0.0037,.5,.6]];
const I_NEB: Pt[] = [[30,14,.1,.2],[6,13,.2,.2],[5.1,11.6,.2,.2],[3.6,7.5,.2,.3],[0.97,2.3,.3,.4],[0.65,1.6,.4,.4],[0.46,1.25,.4,.4],[0.2,1.2,.5,.4],[0.15,1.05,.6,.4],[1.1,0.46,.3,.5],[2.4,1.08,.2,.4],[3.6,1.22,.2,.4],[4.6,0.97,.2,.4],[2.65,2,.2,.4],[0.52,0.5,.4,.5],[0.58,0.68,.4,.5],[0.64,0.16,.4,.6],[0.48,0.18,.4,.6],[0.27,0.165,.5,.6],[0.92,0.08,.3,.6],[0.19,0.51,.5,.5],[0.056,0.7,.7,.5],[0.056,0.52,.7,.5],[0.1,0.37,.6,.5],[0.039,0.37,.8,.5],[0.023,0.41,.9,.5],[0.043,0.24,.8,.6],[0.0255,0.1,.8,.6],[0.09,0.066,.6,.7],[0.11,0.066,.6,.7],[0.072,0.05,.6,.7],[0.11,0.028,.6,.7],[0.26,0.029,.5,.7],[0.06,0.0137,.6,.7],[0.15,0.0125,.5,.7],[0.26,0.0081,.4,.7],[1.05,0.0086,.2,.4],[0.0077,0.079,.8,.6],[0.002,0.026,.6,.6],[0.0027,0.021,.8,.6],[0.048,0.0037,.6,.7]];
const I_PMA: Pt[] = [[30,38,.1,.2],[21,4.8,.1,.4],[1.05,4.7,.3,.3],[3.6,4.8,.2,.3],[5.1,4.5,.2,.3],[4.6,3.3,.2,.3],[6,3.2,.2,.3],[3,3.4,.2,.3],[2.5,0.58,.2,.4],[2.8,1.8,.2,.4],[0.15,2.2,.6,.3],[0.9,1.95,.3,.4],[0.9,1.3,.3,.4],[0.64,1.28,.4,.4],[0.65,1.15,.4,.4],[0.64,0.84,.4,.5],[1.1,0.6,.3,.5],[0.92,0.26,.3,.6],[0.46,0.6,.4,.5],[0.48,0.52,.4,.5],[0.34,0.52,.5,.5],[0.29,0.44,.5,.5],[0.28,0.35,.5,.5],[0.36,0.37,.5,.5],[0.6,0.44,.4,.5],[0.53,0.29,.4,.6],[0.21,0.49,.5,.5],[0.097,0.6,.7,.5],[0.09,0.54,.7,.5],[0.1,0.26,.7,.6],[0.15,0.28,.6,.6],[0.19,0.21,.5,.6],[0.25,0.11,.5,.6],[0.2,0.13,.5,.6],[0.14,0.13,.6,.6],[0.085,0.125,.7,.6],[0.097,0.122,.7,.6],[0.063,0.16,.7,.6],[0.044,0.24,.8,.6],[0.04,0.28,.8,.6],[0.049,0.18,.8,.6],[0.056,0.17,.7,.6],[0.027,1.03,.8,.3],[0.029,0.48,.8,.5],[0.016,0.26,.8,.6],[0.0257,0.058,.8,.7],[0.0077,0.053,.8,.7],[0.048,0.034,.7,.7],[0.095,0.037,.6,.7],[0.073,0.024,.6,.7],[0.29,0.047,.5,.7],[0.27,0.035,.5,.7],[0.36,0.073,.5,.7],[0.058,0.01,.6,.7],[0.063,0.0077,.6,.7],[0.076,0.0136,.6,.7],[0.11,0.0047,.6,.7],[0.11,0.0018,.6,.6],[0.002,0.034,.6,.6],[0.0047,0.32,.8,.4]];
const I_FIL: Pt[] = [[21,25,.1,.2],[30,19,.1,.2],[4.6,10.8,.2,.2],[6,6.4,.2,.3],[3.6,5.2,.2,.3],[2.4,2.6,.2,.4],[3.6,1.55,.2,.4],[5.1,0.93,.2,.4],[0.92,3.1,.3,.3],[0.26,0.84,.5,.5],[0.15,1.2,.6,.5],[0.08,0.83,.7,.5],[0.1,0.83,.6,.5],[0.65,0.22,.4,.9],[0.37,0.23,.5,.6],[0.53,0.094,.4,.6],[0.9,0.14,.3,.6],[0.28,0.069,.5,.7],[0.34,0.057,.5,.7],[0.085,0.0105,.6,.7]];
const I_MOL: Pt[] = [[21,47,.1,.2],[6,5.2,.2,.3],[1.1,2.5,.3,.4],[2.5,2.3,.2,.4],[2.9,0.91,.2,.4],[2.65,0.88,.2,.4],[5.1,0.7,.2,.4],[0.92,0.6,.3,.5],[0.36,0.64,.5,.5],[0.19,0.32,.5,.6],[0.056,0.1,.7,.6],[0.15,0.094,.6,.6],[0.6,0.073,.4,.7],[0.016,0.14,.9,.6],[0.024,0.17,.9,.6],[0.044,0.054,.8,.7],[0.061,0.025,.7,.7],[0.2,0.04,.5,.7],[0.0255,0.0173,.8,.7],[0.029,0.012,.8,.7],[0.043,0.0112,.7,.7],[0.2,0.01,.5,.7],[0.04,0.0038,.7,.7],[0.0047,0.3,.9,.5],[0.0027,0.038,.8,.6]];

const PANEL_DATA: Pt[][][] = [
  [A_NEB, A_QIA, A_PMA, A_FIL, A_MOL],
  [B_NEB, B_QIA, B_PMA, B_FIL, B_MOL],
  [C_NEB, C_QIA, C_PMA, C_FIL, C_MOL],
  [D_NEB, D_QIA, D_PMA, D_FIL, D_MOL],
  [F_NEB, F_QIA, F_PMA, F_FIL, F_MOL],
  [G_NEB, G_QIA, G_PMA, G_FIL, G_MOL],
  [H_NEB, H_QIA, H_PMA, H_FIL, H_MOL],
  [I_QIA, I_NEB, I_PMA, I_FIL, I_MOL],
];

// layout
const PANEL_LEFT = [84, 544, 1008, 1472, 81, 544, 1008, 1472];
const YLABEL_X = [36, 488, 952, 1416, 33.5, 488, 952, 1416];
const ROW_TOP = [17, 479];
const ROW_BOTTOM = [347, 808];
const PLOT_W = 329;
const DOMAIN: [number, number] = [0.001, 100];
const AXIS_COLOR = "#3a3a3a";
const TITLE_FONT = "'Open Sans', 'DejaVu Sans', sans-serif";
const TICK_FONT = "'DejaVu Sans', sans-serif";

function Panel({ idx }: { idx: number }) {
  const row = idx < 4 ? 0 : 1;
  const left = PANEL_LEFT[idx];
  const top = ROW_TOP[row];
  const bottom = ROW_BOTTOM[row];
  const x = d3.scaleLog().domain(DOMAIN).range([left, left + PLOT_W]);
  const y = d3.scaleLog().domain(DOMAIN).range([bottom, top]);
  const names = idx === 7 ? NAMES_I : NAMES_STD;
  const xTicks = idx === 0 ? X_TICKS_A : X_TICKS;
  const minor = d3.range(-3, 2).flatMap((e) => d3.range(2, 10).map((m) => m * Math.pow(10, e)));
  const series = PANEL_DATA[idx];
  const lo = (v: number, e: number) => (e >= 1 ? DOMAIN[0] : Math.max(DOMAIN[0], v * (1 - e)));
  const hi = (v: number, e: number) => Math.min(DOMAIN[1], v * (1 + e));
  const order = [4, 3, 2, 1, 0];
  const cx = left + 147;

  return (
    <g>
      {/* series: error bars then dots, first series on top */}
      {order.map((si) => (
        <g key={si}>
          <g stroke={COLORS[si]} strokeOpacity={0.55} strokeWidth={1}>
            {series[si].map((p, i) => (
              <g key={i}>
                <line x1={x(lo(p[0], p[2]))} x2={x(hi(p[0], p[2]))} y1={y(p[1])} y2={y(p[1])} />
                <line x1={x(p[0])} x2={x(p[0])} y1={y(lo(p[1], p[3]))} y2={y(hi(p[1], p[3]))} />
              </g>
            ))}
          </g>
          <g fill={COLORS[si]}>
            {series[si].map((p, i) => (
              <circle key={i} cx={x(p[0])} cy={y(p[1])} r={4.2} />
            ))}
          </g>
        </g>
      ))}

      {/* axes */}
      <g stroke={AXIS_COLOR} strokeWidth={1.5} fill="none">
        <line x1={left} x2={left + PLOT_W} y1={bottom} y2={bottom} />
        <line x1={left} x2={left} y1={top} y2={bottom} />
        {X_TICKS.map((t) => (
          <line key={"xM" + t} x1={x(t)} x2={x(t)} y1={bottom} y2={bottom + 5} />
        ))}
        {Y_TICKS.map((t) => (
          <line key={"yM" + t} x1={left - 5} x2={left} y1={y(t)} y2={y(t)} />
        ))}
      </g>
      <g stroke={AXIS_COLOR} strokeWidth={1} fill="none">
        {minor.map((t) => (
          <line key={"xm" + t} x1={x(t)} x2={x(t)} y1={bottom} y2={bottom + 3} />
        ))}
        {minor.map((t) => (
          <line key={"ym" + t} x1={left - 3} x2={left} y1={y(t)} y2={y(t)} />
        ))}
      </g>
      <g fontFamily={TICK_FONT} fontWeight="bold" fontSize={13} fill="#111">
        {xTicks.map((t) => (
          <text key={"xl" + t} x={x(t)} y={bottom + 18} textAnchor="middle">{String(t)}</text>
        ))}
        {Y_TICKS.map((t) => (
          <text key={"yl" + t} x={left - 5} y={y(t)} textAnchor="end" dominantBaseline="central">{String(t)}</text>
        ))}
      </g>

      {/* titles */}
      <text x={cx} y={top + 24} textAnchor="middle" fontFamily={TITLE_FONT} fontSize={38} fill="#000">{LETTERS[idx]}</text>
      <text x={cx} y={bottom + 50} textAnchor="middle" fontFamily={TITLE_FONT} fontSize={28} fill="#000">raw</text>
      <text
        transform={`translate(${YLABEL_X[idx]},${(top + bottom) / 2 + 7}) rotate(-90)`}
        textAnchor="middle"
        fontFamily={TITLE_FONT}
        fontSize={28}
        fill="#000"
      >
        host depleted
      </text>

      {/* legend */}
      {names.map((n, i) => {
        const ly = top + 237 + i * 19.4;
        return (
          <g key={n}>
            <circle cx={left + 287} cy={ly} r={4.2} fill={COLORS[i]} />
            <text x={left + 306} y={ly} dominantBaseline="central" fontFamily={TITLE_FONT} fontSize={15} fill="#222">{n}</text>
          </g>
        );
      })}
    </g>
  );
}

export default function App() {
  return (
    <svg
      width={1825}
      height={873}
      viewBox="0 0 1825 873"
      style={{ position: "absolute", left: 0, top: 0, background: "#fff" }}
    >
      <rect width={1825} height={873} fill="#fff" />
      {LETTERS.map((_, i) => (
        <Panel key={i} idx={i} />
      ))}
    </svg>
  );
}
